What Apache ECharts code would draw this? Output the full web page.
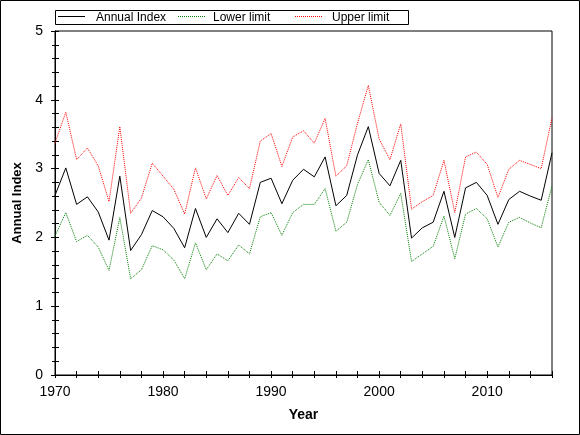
<!DOCTYPE html>
<html>
<head>
<meta charset="utf-8">
<script src="https://cdn.jsdelivr.net/npm/echarts@6/dist/echarts.min.js"></script>
<style>html,body{margin:0;padding:0;background:#fff}#c{width:580px;height:435px}</style>
</head>
<body>
<div id="c"></div>
<script>
var years = [];
for (var y = 1970; y <= 2016; y++) years.push(y);
var annualIndex = [2.61,3.01,2.48,2.59,2.37,1.96,2.89,1.81,2.04,2.39,
  2.30,2.13,1.85,2.42,2.00,2.27,2.07,2.35,2.19,2.80,
  2.86,2.49,2.83,2.99,2.88,3.17,2.46,2.61,3.20,3.61,
  2.93,2.75,3.12,1.99,2.14,2.22,2.67,2.00,2.72,2.80,
  2.61,2.19,2.55,2.67,2.60,2.54,3.23];
var upperLimit = [3.37,3.82,3.13,3.30,3.04,2.52,3.61,2.35,2.57,3.08,
  2.89,2.70,2.34,3.01,2.56,2.90,2.61,2.87,2.71,3.40,
  3.51,3.03,3.46,3.55,3.37,3.73,2.89,3.04,3.66,4.21,
  3.43,3.13,3.65,2.41,2.52,2.61,3.12,2.36,3.17,3.24,
  3.06,2.58,2.99,3.12,3.06,3.00,3.74];
var lowerLimit = [2.02,2.36,1.94,2.03,1.86,1.52,2.29,1.40,1.53,1.88,
  1.82,1.67,1.40,1.92,1.53,1.76,1.66,1.89,1.76,2.30,
  2.36,2.03,2.36,2.48,2.48,2.71,2.09,2.22,2.77,3.13,
  2.51,2.32,2.64,1.65,1.76,1.87,2.31,1.69,2.34,2.42,
  2.27,1.86,2.22,2.29,2.21,2.14,2.75];
var seriesNames = ['Annual Index', 'Lower limit', 'Upper limit'];
var seriesColors = ['#000000', '#008000', '#ff0000'];
var seriesDash = ['solid', [1, 1], [1, 1]];

function pairs(vals) { return years.map(function (yr, i) { return [yr, vals[i]]; }); }

var FONT = 'Liberation Sans, Arial, sans-serif';
var chart = echarts.init(document.getElementById('c'), null, {renderer: 'canvas'});

// legend drawn as graphics (line samples without symbols)
var legendSampleX = [58, 178, 295];
var legendTextX = [96, 213, 332];
var legendGraphics = [
  {type: 'rect', shape: {x: 55.5, y: 10.5, width: 353, height: 14}, style: {fill: 'none', stroke: '#000', lineWidth: 1}, silent: true}
];
seriesNames.forEach(function (n, i) {
  legendGraphics.push({type: 'line', shape: {x1: legendSampleX[i], y1: 16.5, x2: legendSampleX[i] + 27, y2: 16.5},
    style: {stroke: seriesColors[i], lineWidth: 1, lineDash: seriesDash[i] === 'solid' ? null : seriesDash[i]}, silent: true});
  legendGraphics.push({type: 'text', x: legendTextX[i], y: 17.5,
    style: {text: n, fill: '#000', font: '12px ' + FONT, verticalAlign: 'middle', align: 'left'}, silent: true});
});

var xBase = {
  type: 'value', min: 1970, max: 2016, interval: 2, position: 'bottom',
  axisLine: {show: true, onZero: false, lineStyle: {color: '#000', width: 1}},
  splitLine: {show: false}
};
var yBase = {
  type: 'value', min: 0, max: 5, interval: 1, position: 'left',
  axisLine: {show: true, onZero: false, lineStyle: {color: '#000', width: 1}},
  splitLine: {show: false}, minorSplitLine: {show: false}
};
chart.setOption({
  animation: false,
  backgroundColor: '#fff',
  grid: {left: 55, right: 28, top: 31, bottom: 60, show: true, borderColor: '#000', borderWidth: 1, backgroundColor: 'transparent'},
  legend: {show: false, data: seriesNames},
  graphic: [
    {type: 'rect', shape: {x: 0.5, y: 0.5, width: 579, height: 434}, style: {fill: 'none', stroke: '#000', lineWidth: 1}, silent: true}
  ].concat(legendGraphics),
  xAxis: [
    Object.assign({}, xBase, {
      name: 'Year', nameLocation: 'middle', nameGap: 33,
      nameTextStyle: {fontFamily: FONT, fontSize: 14, fontWeight: 'bold', color: '#000'},
      axisTick: {show: true, inside: false, length: 3, lineStyle: {color: '#000'}},
      axisLabel: {show: true, margin: 10, fontFamily: FONT, fontSize: 14, color: '#000',
        formatter: function (v) { return v % 10 === 0 ? String(v) : ''; }}
    }),
    Object.assign({}, xBase, {
      axisTick: {show: true, inside: true, length: 4, lineStyle: {color: '#000'}},
      axisLabel: {show: false}
    })
  ],
  yAxis: [
    Object.assign({}, yBase, {
      name: 'Annual Index', nameLocation: 'middle', nameGap: 30,
      nameTextStyle: {fontFamily: FONT, fontSize: 13, fontWeight: 'bold', color: '#000'},
      axisTick: {show: true, inside: false, length: 4, lineStyle: {color: '#000'}},
      minorTick: {show: true, splitNumber: 5, length: 3, lineStyle: {color: '#000'}},
      axisLabel: {show: true, margin: 12, fontFamily: FONT, fontSize: 14, color: '#000'}
    }),
    Object.assign({}, yBase, {
      axisTick: {show: true, inside: true, length: 4, lineStyle: {color: '#000'}},
      minorTick: {show: true, splitNumber: 5, length: 4, lineStyle: {color: '#000'}},
      axisLabel: {show: false}
    })
  ],
  series: [
    {name: seriesNames[0], type: 'line', data: pairs(annualIndex), symbol: 'none', color: seriesColors[0],
      lineStyle: {color: seriesColors[0], width: 1, type: seriesDash[0]}},
    {name: seriesNames[1], type: 'line', data: pairs(lowerLimit), symbol: 'none', color: seriesColors[1],
      lineStyle: {color: seriesColors[1], width: 1, type: seriesDash[1]}},
    {name: seriesNames[2], type: 'line', data: pairs(upperLimit), symbol: 'none', color: seriesColors[2],
      lineStyle: {color: seriesColors[2], width: 1, type: seriesDash[2]}}
  ]
});
</script>
</body>
</html>
